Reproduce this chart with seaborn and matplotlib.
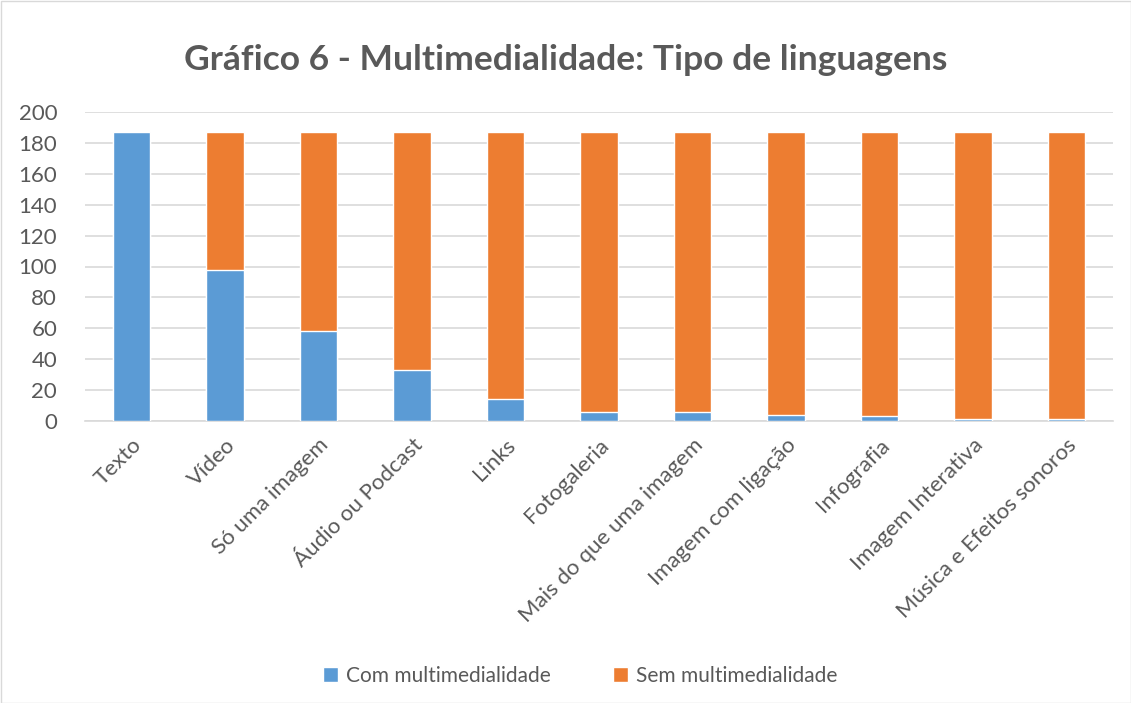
import matplotlib
matplotlib.use("Agg")
import matplotlib.pyplot as plt
import seaborn as sns
import pandas as pd
from matplotlib.patches import Rectangle

categories = ["Texto", "Vídeo", "Só uma imagem", "Áudio ou Podcast", "Links", "Fotogaleria",
              "Mais do que uma imagem", "Imagem com ligação", "Infografia", "Imagem Interativa",
              "Música e Efeitos sonoros"]
com_multi = [187, 98, 58, 33, 14, 6, 6, 4, 3, 1, 1]
sem_multi = [0, 89, 129, 154, 173, 181, 181, 183, 184, 186, 186]
series_names = ["Com multimedialidade", "Sem multimedialidade"]
yticks = [0, 20, 40, 60, 80, 100, 120, 140, 160, 180, 200]

blue = "#5B9BD5"
orange = "#ED7D31"

sns.set_theme(style="white")
plt.rcParams['font.family'] = ['Lato', 'DejaVu Sans']

fig = plt.figure(figsize=(11.31, 7.03), dpi=100)
ax = fig.add_axes([85/1131, 1 - 421/703, (1113-85)/1131, (421-112)/703])

total = [a + b for a, b in zip(com_multi, sem_multi)]
df_tot = pd.DataFrame({"cat": categories, "v": total})
df_com = pd.DataFrame({"cat": categories, "v": com_multi})
sns.barplot(data=df_tot, x="cat", y="v", color=orange, width=0.40, ax=ax,
            saturation=1, label=series_names[1], zorder=2)
sns.barplot(data=df_com, x="cat", y="v", color=blue, width=0.40, ax=ax,
            saturation=1, label=series_names[0], zorder=3)
handles, labels = ax.get_legend_handles_labels()
if ax.get_legend() is not None:
    ax.get_legend().remove()

ax.set_ylim(0, 200)
ax.set_yticks(yticks)
ax.set_xlim(-0.5, len(categories) - 0.5)
ax.yaxis.grid(True, color="#D9D9D9", linewidth=1.2, zorder=0)
ax.set_axisbelow(True)
for s in ["top", "right", "left"]:
    ax.spines[s].set_visible(False)
ax.spines["bottom"].set_color("#D9D9D9")
ax.spines["bottom"].set_linewidth(1.2)
ax.set_xlabel("")
ax.set_ylabel("")
ax.tick_params(axis="y", labelsize=16, colors="#595959", length=0, pad=20)
ax.tick_params(axis="x", labelsize=16, colors="#595959", length=0, pad=10)
ax.set_xticks(range(len(categories)))
ax.set_xticklabels(categories, rotation=45, ha="right", rotation_mode="anchor")

fig.text(0.5, 1 - 60/703, "Gráfico 6 - Multimedialidade: Tipo de linguagens", ha="center", va="center",
         fontsize=25.5, fontweight="bold", color="#595959")

order = [labels.index(series_names[0]), labels.index(series_names[1])]
fig.legend([handles[i] for i in order], [labels[i] for i in order], loc="center",
           bbox_to_anchor=(0.513, 1 - 676/703), ncol=2, frameon=False, fontsize=15,
           handlelength=0.7, handleheight=0.7, columnspacing=3.0, handletextpad=0.4,
           labelcolor="#595959")

fig.patches.append(Rectangle((0.5/1131, 0.5/703), 1 - 1/1131, 1 - 1/703, transform=fig.transFigure,
                             fill=False, edgecolor="#D9D9D9", linewidth=1))

fig.savefig("out.png", dpi=100)
